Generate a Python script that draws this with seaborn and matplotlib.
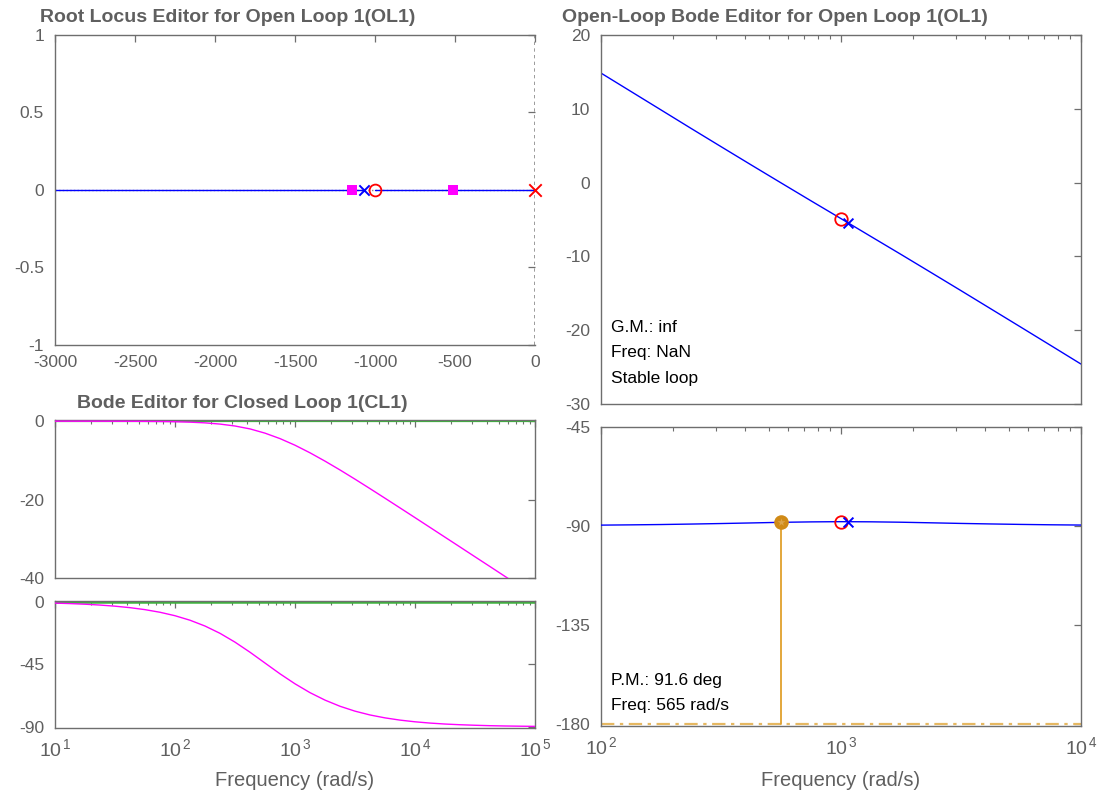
import numpy as np
import pandas as pd
import matplotlib
matplotlib.use("Agg")
import matplotlib.pyplot as plt
import matplotlib.ticker as mticker
import seaborn as sns

# ---- root locus data (s-plane, real axis) ----
ol_poles = [0.0]
ol_zeros = [-1000.0]
comp_poles = [-1070.0]
cl_poles = [-1144.5, -515.5]
branch_a_x = [-3000.0, -1070.0]
branch_b_x = [-1000.0, 0.0]

# ---- closed-loop Bode data (eighth-decade samples) ----
w_cl = [10, 13.3, 17.8, 23.7, 31.6, 42.2, 56.2, 75, 100, 133.4, 178, 237.1,
        316, 421.7, 562, 749.9, 1000, 1333.5, 1778, 2371, 3162, 4217, 5623,
        7499, 10000, 13335, 17783, 23714, 31623, 42170, 56234, 74989, 100000]
cl_mag = [0.0, -0.003, -0.005, -0.008, -0.014, -0.026, -0.046, -0.081,
          -0.14, -0.25, -0.43, -0.742, -1.23, -1.971, -3.05, -4.444, -6.13,
          -8.067, -10.19, -12.441, -14.79, -17.204, -19.65, -22.121, -24.6,
          -27.094, -29.59, -32.085, -34.59, -37.084, -39.59, -42.082, -44.6]
cl_phase = [-1.02, -1.355, -1.81, -2.415, -3.22, -4.294, -5.71, -7.597,
            -10.08, -13.32, -17.51, -22.73, -29.06, -36.33, -44.08, -51.85,
            -59.03, -65.39, -70.75, -75.17, -78.69, -81.43, -83.52, -85.13,
            -86.34, -87.26, -87.95, -88.45, -88.83, -89.14, -89.35, -89.50,
            -89.63]

# ---- open-loop Bode data ----
w_ol = [100, 133.4, 178, 237.1, 316, 421.7, 562, 749.9, 1000, 1333.5, 1778,
        2371, 3162, 4217, 5623, 7499, 10000]
ol_mag = [14.84, 12.34, 9.84, 7.35, 4.88, 2.41, -0.03, -2.47, -4.88, -7.31,
          -9.73, -12.18, -14.64, -17.12, -19.60, -22.09, -24.59]
ol_phase = [-89.63, -89.51, -89.36, -89.15, -88.91, -88.64, -88.36, -88.16,
            -88.06, -88.13, -88.31, -88.58, -88.86, -89.10, -89.31, -89.48,
            -89.60]
zero_w, zero_mag, zero_ph = 1000.0, -4.88, -88.06
pole_w, pole_mag, pole_ph = 1070.0, -5.42, -88.08

# stability margins
pm_deg = 91.6
pm_freq = 565.0

sns.set_theme(style="white")
plt.rcParams["font.family"] = ["Liberation Sans", "DejaVu Sans"]
plt.rcParams["mathtext.fontset"] = "custom"
plt.rcParams["mathtext.rm"] = "Liberation Sans"
plt.rcParams["mathtext.it"] = "Liberation Sans:italic"
plt.rcParams["mathtext.bf"] = "Liberation Sans:bold"

GREY = "#5f5f5f"
SPINE = "#6e6e6e"
TICK_FS = 12.5

W, H = 1108, 799
fig = plt.figure(figsize=(W / 100, H / 100), dpi=100)


def axes_px(x0, y0, x1, y1):
    return fig.add_axes([x0 / W, 1 - y1 / H, (x1 - x0) / W, (y1 - y0) / H])


def style(ax, log=False):
    for sp in ax.spines.values():
        sp.set_color(SPINE)
        sp.set_linewidth(1.0)
    ax.tick_params(which="both", direction="in", top=True, right=True,
                   colors=SPINE, labelcolor=GREY, labelsize=TICK_FS)
    ax.tick_params(which="major", length=5, width=0.9)
    ax.tick_params(which="minor", length=3, width=0.8)
    ax.tick_params(axis="y", pad=8)
    ax.tick_params(axis="x", pad=7)
    ax.grid(False)
    ax.set_xlabel("")
    ax.set_ylabel("")
    if log:
        ax.xaxis.set_minor_locator(mticker.LogLocator(base=10, subs=np.arange(2, 10)))
        ax.xaxis.set_minor_formatter(mticker.NullFormatter())


def dec_labels(ax, exps, show=True):
    ax.set_xticks([10.0 ** e for e in exps])
    if show:
        ax.set_xticklabels([r"$\mathregular{10^{\,%d}}$" % e for e in exps],
                           fontsize=14)
    else:
        ax.set_xticklabels([])


# ================= Root locus =================
ax_rl = axes_px(55, 35, 535, 345)
ax_rl.axhline(0, color="#8a8a8a", lw=1.0, ls=":", zorder=1)
ax_rl.axvline(0, color="#8a8a8a", lw=1.2, ls=(0, (2, 2)), zorder=1)
for bx in (branch_a_x, branch_b_x):
    sns.lineplot(x=bx, y=[0.0] * len(bx), ax=ax_rl, color="#0000ff", lw=1.0,
                 sort=False, estimator=None, zorder=2)
sns.scatterplot(x=cl_poles, y=[0.0] * len(cl_poles), ax=ax_rl, marker="s",
                color="#ff00ff", s=45, edgecolor="#ff00ff", linewidth=0, zorder=4)
sns.scatterplot(x=comp_poles, y=[0.0], ax=ax_rl, marker="x", color="#0000ff",
                s=55, linewidth=1.4, zorder=4)
ax_rl.plot(ol_zeros, [0.0], ls="none", marker="o", ms=8.5, mfc="none",
           mec="#ff0000", mew=1.3, zorder=5)
sns.scatterplot(x=ol_poles, y=[0.0], ax=ax_rl, marker="x", color="#ff0000",
                s=80, linewidth=1.4, zorder=5, clip_on=False)
ax_rl.set_xlim(-3000, 0)
ax_rl.set_ylim(-1, 1)
ax_rl.set_xticks(np.arange(-3000, 1, 500))
ax_rl.set_yticks([-1, -0.5, 0, 0.5, 1])
ax_rl.set_yticklabels(["-1", "-0.5", "0", "0.5", "1"])
ax_rl.set_xticklabels([str(v) for v in range(-3000, 1, 500)])
style(ax_rl)
ax_rl.spines["right"].set_visible(False)

# ================= Closed-loop magnitude =================
cl_df = pd.DataFrame({"w": w_cl, "mag": cl_mag, "phase": cl_phase})
ax_cm = axes_px(55, 420, 535, 578)
ax_cm.set_xscale("log")
ax_cm.axhline(0, color="#3cb43c", lw=1.6, zorder=1)
sns.lineplot(data=cl_df, x="w", y="mag", ax=ax_cm, color="#ff00ff", lw=1.0,
             estimator=None, zorder=3)
ax_cm.set_xlim(10, 1e5)
ax_cm.set_ylim(-40, 0.3)
ax_cm.set_yticks([-40, -20, 0])
ax_cm.set_yticklabels(["-40", "-20", "0"])
style(ax_cm, log=True)
dec_labels(ax_cm, range(1, 6), show=False)

# ================= Closed-loop phase =================
ax_cp = axes_px(55, 601, 535, 728)
ax_cp.set_xscale("log")
ax_cp.axhline(0, color="#3cb43c", lw=1.8, zorder=1)
sns.lineplot(data=cl_df, x="w", y="phase", ax=ax_cp, color="#ff00ff", lw=1.0,
             estimator=None, zorder=3)
ax_cp.set_xlim(10, 1e5)
ax_cp.set_ylim(-90.8, 0.5)
ax_cp.set_yticks([-90, -45, 0])
ax_cp.set_yticklabels(["-90", "-45", "0"])
style(ax_cp, log=True)
dec_labels(ax_cp, range(1, 6))

# ================= Open-loop magnitude =================
ol_df = pd.DataFrame({"w": w_ol, "mag": ol_mag, "phase": ol_phase})
ax_om = axes_px(601, 35, 1081, 404)
ax_om.set_xscale("log")
sns.lineplot(data=ol_df, x="w", y="mag", ax=ax_om, color="#0000ff", lw=1.0,
             estimator=None, zorder=2)
ax_om.plot([zero_w], [zero_mag], ls="none", marker="o", ms=9, mfc="none",
           mec="#ff0000", mew=1.3, zorder=4)
sns.scatterplot(x=[pole_w], y=[pole_mag], ax=ax_om, marker="x",
                color="#0000ff", s=50, linewidth=1.4, zorder=4)
ax_om.set_xlim(100, 1e4)
ax_om.set_ylim(-30, 20)
ax_om.set_yticks(np.arange(-30, 21, 10))
ax_om.set_yticklabels([str(v) for v in range(-30, 21, 10)])
style(ax_om, log=True)
dec_labels(ax_om, range(2, 5), show=False)
for i, t in enumerate(["G.M.: inf", "Freq: NaN", "Stable loop"]):
    ax_om.text(611 / W, 1 - (327 + 25.5 * i) / H, t, transform=fig.transFigure,
               fontsize=12.5, color="black", va="center", ha="left")

# ================= Open-loop phase =================
ax_op = axes_px(601, 427, 1081, 726)
ax_op.set_xscale("log")
pm_y = -180 + pm_deg
ax_op.axhline(-180, color="#e6b862", lw=1.6, ls=(0, (6, 2.5, 1.5, 2.5)), zorder=1)
ax_op.plot([pm_freq, pm_freq], [-180, pm_y], color="#e0a02c", lw=1.3, zorder=2)
sns.lineplot(data=ol_df, x="w", y="phase", ax=ax_op, color="#0000ff", lw=1.0,
             estimator=None, zorder=3)
sns.scatterplot(x=[pm_freq], y=[pm_y], ax=ax_op, marker="o", color="#d08a16",
                s=110, linewidth=0, zorder=5)
sns.scatterplot(x=[pm_freq], y=[pm_y], ax=ax_op, marker="*", color="#dca54a",
                s=35, linewidth=0, zorder=6)
ax_op.plot([zero_w], [zero_ph], ls="none", marker="o", ms=9, mfc="none",
           mec="#ff0000", mew=1.3, zorder=4)
sns.scatterplot(x=[pole_w], y=[pole_ph], ax=ax_op, marker="x",
                color="#0000ff", s=50, linewidth=1.4, zorder=4)
ax_op.set_xlim(100, 1e4)
ax_op.set_ylim(-181, -45)
ax_op.set_yticks([-180, -135, -90, -45])
ax_op.set_yticklabels(["-180", "-135", "-90", "-45"])
style(ax_op, log=True)
dec_labels(ax_op, range(2, 5))
for i, t in enumerate(["P.M.: %.1f deg" % pm_deg, "Freq: %d rad/s" % round(pm_freq)]):
    ax_op.text(611 / W, 1 - (680 + 25.5 * i) / H, t, transform=fig.transFigure,
               fontsize=12.5, color="black", va="center", ha="left")

# ================= Titles and axis labels =================
title_kw = dict(fontsize=14, fontweight="bold", color=GREY, va="center", ha="left")
fig.text(40 / W, 1 - 17 / H, "Root Locus Editor for Open Loop 1(OL1)", **title_kw)
fig.text(77 / W, 1 - 403 / H, "Bode Editor for Closed Loop 1(CL1)", **title_kw)
fig.text(562 / W, 1 - 17 / H, "Open-Loop Bode Editor for Open Loop 1(OL1)", **title_kw)

xl_kw = dict(fontsize=14.5, color=GREY, va="center", ha="center")
fig.text(295 / W, 1 - 780 / H, "Frequency (rad/s)", **xl_kw)
fig.text(841 / W, 1 - 780 / H, "Frequency (rad/s)", **xl_kw)

fig.savefig("out.png", dpi=100, facecolor="white")
